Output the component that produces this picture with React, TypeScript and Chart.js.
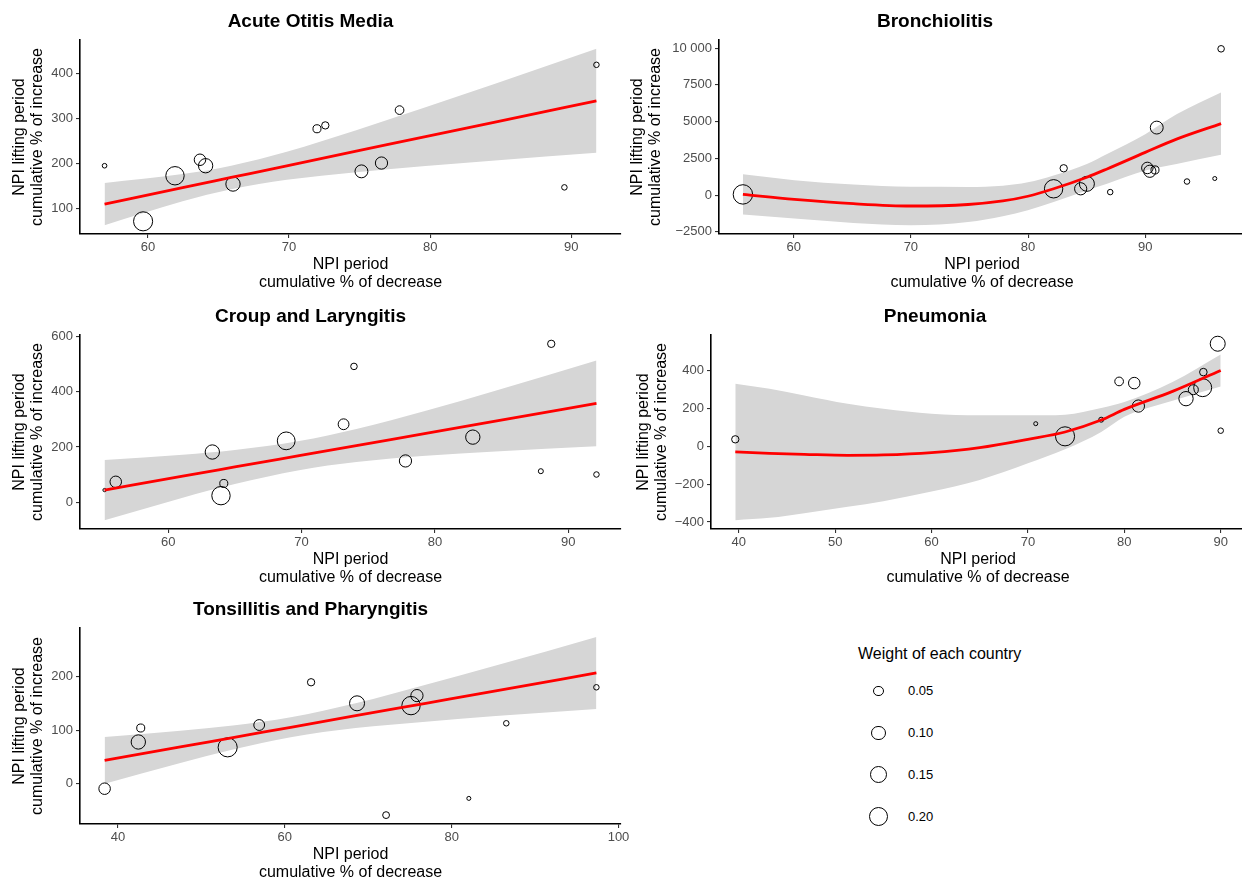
import React, { useEffect, useRef } from "react";
import { Chart, registerables } from "chart.js";
Chart.register(...registerables);

const FONT = '"Liberation Sans", Arial, Helvetica, sans-serif';
Chart.defaults.font.family = FONT;

// ---------- Acute Otitis Media ----------
const aomX = [56.93, 59.66, 61.92, 63.69, 64.09, 66.03, 71.98, 72.57, 75.13, 76.55, 77.83, 89.51, 91.78];
const aomY = [195.6, 72, 173.3, 208.9, 195.6, 154.9, 277.8, 285.3, 183.1, 201.6, 319.3, 147.5, 420];
const aomW = [0.012, 0.203, 0.188, 0.0736, 0.114, 0.114, 0.036, 0.03, 0.0925, 0.083, 0.042, 0.017, 0.017];
const aomFitX = [56.93, 62.46, 65.9, 69.84, 74.76, 79.67, 84.6, 91.78];
const aomFit = [110.4, 146.8, 169.5, 195.5, 227.9, 260.2, 292.7, 340];
const aomLo = [63.4, 116.6, 143.3, 164.2, 181.3, 194.8, 207.3, 224.4];
const aomHi = [157.4, 177, 195.7, 226.8, 274.5, 325.6, 378.1, 455.6];
const aomXTicks = [60, 70, 80, 90];
const aomYTicks = [100, 200, 300, 400];
const aomYLabels = ["100", "200", "300", "400"];

// ---------- Bronchiolitis ----------
const bronX = [55.67, 82.18, 83.04, 84.49, 85.02, 87.01, 90.18, 90.39, 90.83, 90.98, 93.56, 95.93, 96.47];
const bronY = [45, 428, 1824, 428, 766, 203, 1847, 1621, 1711, 4594, 923, 1126, 9954];
const bronW = [0.21, 0.188, 0.03, 0.083, 0.125, 0.017, 0.0736, 0.083, 0.036, 0.0925, 0.017, 0.009, 0.024];
const bronFitX = [55.67, 60.06, 65.1, 69.99, 74.88, 77.85, 79.98, 82.18, 85.02, 86.74, 90.0, 92.67, 96.47];
const bronFit = [45, -293, -586, -743, -640, -400, -80, 428, 1216, 1779, 2905, 3806, 4864];
const bronLo = [-1329, -1599, -1892, -2049, -1834, -1436, -1026, -473, 315, 766, 1666, 2117, 2747];
const bronHi = [1419, 1013, 720, 563, 554, 636, 866, 1329, 2117, 2792, 4144, 5495, 6981];
const bronXTicks = [60, 70, 80, 90];
const bronYTicks = [-2500, 0, 2500, 5000, 7500, 10000];
const bronYLabels = ["\u22122500", "0", "2500", "5000", "7500", "10 000"];

// ---------- Croup and Laryngitis ----------
const croupX = [55.23, 56.07, 63.31, 64.17, 63.96, 68.85, 73.15, 73.93, 77.79, 82.84, 87.94, 88.72, 92.11];
const croupY = [44.2, 74, 181.7, 68, 24, 222, 282, 491, 149.4, 235.5, 112.4, 572.6, 100.4];
const croupW = [0.006, 0.0736, 0.114, 0.036, 0.188, 0.176, 0.065, 0.024, 0.083, 0.114, 0.014, 0.03, 0.017];
const croupFitX = [55.23, 61.09, 65.0, 69.82, 74.11, 79.32, 84.53, 92.11];
const croupFit = [44.2, 94.4, 127.6, 168.5, 204.9, 249.2, 293.4, 357.5];
const croupLo = [-64.6, 16.8, 66.3, 115.9, 145.2, 167.9, 183.9, 202.7];
const croupHi = [153.0, 172.0, 188.9, 221.1, 264.6, 330.5, 402.9, 512.3];
const croupXTicks = [60, 70, 80, 90];
const croupYTicks = [0, 200, 400, 600];
const croupYLabels = ["0", "200", "400", "600"];

// ---------- Pneumonia ----------
const pneuX = [39.64, 70.81, 73.85, 77.6, 79.46, 81.03, 81.46, 86.4, 87.16, 88.13, 88.2, 89.69, 90.0];
const pneuY = [36.9, 119.5, 52.7, 140.6, 342.8, 334, 212.7, 251.7, 299, 309.8, 392, 542, 82.6];
const pneuW = [0.03, 0.009, 0.203, 0.014, 0.042, 0.0736, 0.083, 0.114, 0.056, 0.18, 0.032, 0.125, 0.017];
const pneuFitX = [39.64, 43.2, 46.8, 51.3, 55.0, 60, 65.0, 70, 73.85, 77.6, 80, 85, 90];
const pneuFit = [-29.9, -36.9, -42.2, -47.5, -45.7, -33.4, -7, 36.9, 75.6, 138.9, 195, 290, 400.8];
const pneuLo = [-390.3, -378, -353.4, -320, -290, -239, -177.6, -89.7, -15.8, 75.6, 156.5, 240.8, 316.4];
const pneuHi = [330.5, 304.1, 269, 225, 198.7, 172.3, 163.5, 163.5, 167, 202.2, 233.8, 339.3, 485.2];
const pneuXTicks = [40, 50, 60, 70, 80, 90];
const pneuYTicks = [-400, -200, 0, 200, 400];
const pneuYLabels = ["\u2212400", "\u2212200", "0", "200", "400"];

// ---------- Tonsillitis and Pharyngitis ----------
const tonsX = [38.4, 42.44, 42.73, 53.15, 56.93, 63.15, 68.66, 75.13, 75.84, 72.14, 82.06, 86.55, 97.35];
const tonsY = [-9.3, 77.9, 104, 67.9, 109.6, 189.4, 150.1, 145.8, 164.5, -58.6, -27.4, 112.8, 180];
const tonsW = [0.0736, 0.114, 0.036, 0.203, 0.065, 0.03, 0.125, 0.188, 0.083, 0.026, 0.009, 0.017, 0.017];
const tonsFitX = [38.4, 47.48, 53.78, 60.71, 68.49, 76.89, 85.29, 97.35];
const tonsFit = [43.6, 68.7, 86.2, 105.4, 127.0, 150.2, 173.4, 206.8];
const tonsLo = [0, 38.7, 63.8, 86.7, 103.8, 115.6, 126.2, 139.5];
const tonsHi = [87.2, 98.7, 108.6, 124.1, 150.2, 184.8, 220.6, 274.1];
const tonsXTicks = [40, 60, 80, 100];
const tonsYTicks = [0, 100, 200];
const tonsYLabels = ["0", "100", "200"];

// ---------- Legend ----------
const legendWeights = [0.05, 0.1, 0.15, 0.2];
const legendLabels = ["0.05", "0.10", "0.15", "0.20"];

const radiusOf = (w: number) => 21.2 * Math.sqrt(w);

type PanelDef = {
  title: string;
  x: number[]; y: number[]; w: number[];
  fitX: number[]; fit: number[]; lo: number[]; hi: number[];
  xTicks: number[]; yTicks: number[]; yLabels: string[];
  xMin: number; xMax: number; yMin: number; yMax: number;
  left: number; top: number; width: number; height: number;
  yW: number; padR: number; yTitlePad: number;
};

const panels: PanelDef[] = [
  {
    title: "Acute Otitis Media", x: aomX, y: aomY, w: aomW, fitX: aomFitX, fit: aomFit, lo: aomLo, hi: aomHi,
    xTicks: aomXTicks, yTicks: aomYTicks, yLabels: aomYLabels,
    xMin: 55.19, xMax: 93.52, yMin: 43.8, yMax: 475.2,
    left: 0, top: 0, width: 640, height: 294, yW: 80, padR: 19, yTitlePad: 11,
  },
  {
    title: "Bronchiolitis", x: bronX, y: bronY, w: bronW, fitX: bronFitX, fit: bronFit, lo: bronLo, hi: bronHi,
    xTicks: bronXTicks, yTicks: bronYTicks, yLabels: bronYLabels,
    xMin: 53.63, xMax: 98.51, yMin: -2649, yMax: 10554,
    left: 625, top: 0, width: 625, height: 294, yW: 94, padR: 5, yTitlePad: 4,
  },
  {
    title: "Croup and Laryngitis", x: croupX, y: croupY, w: croupW, fitX: croupFitX, fit: croupFit, lo: croupLo, hi: croupHi,
    xTicks: croupXTicks, yTicks: croupYTicks, yLabels: croupYLabels,
    xMin: 53.39, xMax: 93.95, yMin: -96.5, yMax: 604.5,
    left: 0, top: 295, width: 640, height: 294, yW: 80, padR: 19, yTitlePad: 11,
  },
  {
    title: "Pneumonia", x: pneuX, y: pneuY, w: pneuW, fitX: pneuFitX, fit: pneuFit, lo: pneuLo, hi: pneuHi,
    xTicks: pneuXTicks, yTicks: pneuYTicks, yLabels: pneuYLabels,
    xMin: 37.12, xMax: 92.52, yMin: -436.9, yMax: 588.1,
    left: 625, top: 295, width: 625, height: 294, yW: 86, padR: 5, yTitlePad: 10,
  },
  {
    title: "Tonsillitis and Pharyngitis", x: tonsX, y: tonsY, w: tonsW, fitX: tonsFitX, fit: tonsFit, lo: tonsLo, hi: tonsHi,
    xTicks: tonsXTicks, yTicks: tonsYTicks, yLabels: tonsYLabels,
    xMin: 35.45, xMax: 100.3, yMin: -75.2, yMax: 290.7,
    left: 0, top: 588, width: 640, height: 296, yW: 80, padR: 19, yTitlePad: 11,
  },
];

const tickFont = { family: FONT, size: 13 };
const axisTitleFont = { family: FONT, size: 16, lineHeight: 1.1 };

function PanelChart({ p }: { p: PanelDef }) {
  const ref = useRef<HTMLCanvasElement>(null);
  useEffect(() => {
    const canvas = ref.current!;
    const pts = (xs: number[], ys: number[]) => xs.map((x, i) => ({ x, y: ys[i] }));
    const chart = new Chart(canvas, {
      type: "scatter",
      data: {
        datasets: [
          {
            type: "line",
            data: pts(p.fitX, p.fit),
            borderColor: "#FF0000",
            borderWidth: 2.8,
            pointRadius: 0,
            fill: false,
            cubicInterpolationMode: "monotone",
            order: 0,
          } as any,
          {
            type: "scatter",
            data: pts(p.x, p.y),
            pointRadius: p.w.map(radiusOf),
            pointBorderColor: "#000000",
            pointBackgroundColor: "rgba(0,0,0,0)",
            pointBorderWidth: 1,
            order: 1,
          } as any,
          {
            type: "line",
            data: pts(p.fitX, p.lo),
            borderColor: "rgba(0,0,0,0)",
            borderWidth: 0,
            pointRadius: 0,
            fill: false,
            cubicInterpolationMode: "monotone",
            order: 3,
          } as any,
          {
            type: "line",
            data: pts(p.fitX, p.hi),
            borderColor: "rgba(0,0,0,0)",
            borderWidth: 0,
            pointRadius: 0,
            fill: 2,
            backgroundColor: "rgb(214,214,214)",
            cubicInterpolationMode: "monotone",
            order: 2,
          } as any,
        ],
      },
      options: {
        animation: false,
        responsive: false,
        maintainAspectRatio: false,
        events: [],
        layout: { padding: { left: 0, right: p.padR, top: 0, bottom: 0 }, autoPadding: false } as any,
        plugins: {
          legend: { display: false },
          tooltip: { enabled: false },
          filler: { drawTime: "beforeDatasetsDraw" } as any,
          title: {
            display: true,
            text: p.title,
            color: "#000",
            font: { family: FONT, size: 19, weight: "bold" as any, lineHeight: 1.2 },
            padding: { top: 10, bottom: 7.2 },
          },
        },
        scales: {
          x: {
            type: "linear",
            min: p.xMin,
            max: p.xMax,
            afterBuildTicks: (s: any) => {
              s.ticks = p.xTicks.map((v) => ({ value: v }));
            },
            afterFit: (s: any) => {
              s.height = 60;
            },
            ticks: {
              font: tickFont,
              color: "#4D4D4D",
              padding: 2,
              maxRotation: 0,
              autoSkip: false,
              callback: (v: any) => String(v),
            },
            grid: { display: true, drawOnChartArea: false, drawTicks: true, tickLength: 4, color: "#333333", lineWidth: 1.1 },
            border: { display: true, color: "#000", width: 1.6 },
            title: {
              display: true,
              text: ["NPI period", "cumulative % of decrease"],
              color: "#000",
              font: axisTitleFont,
              padding: { top: 0, bottom: 2.7 },
            },
          },
          y: {
            type: "linear",
            min: p.yMin,
            max: p.yMax,
            afterBuildTicks: (s: any) => {
              s.ticks = p.yTicks.map((v) => ({ value: v }));
            },
            afterFit: (s: any) => {
              s.width = p.yW;
            },
            ticks: {
              font: tickFont,
              color: "#4D4D4D",
              padding: 3,
              autoSkip: false,
              callback: (v: any) => {
                const i = p.yTicks.indexOf(Number(v));
                return i >= 0 ? p.yLabels[i] : String(v);
              },
            },
            grid: { display: true, drawOnChartArea: false, drawTicks: true, tickLength: 4, color: "#333333", lineWidth: 1.1 },
            border: { display: true, color: "#000", width: 1.6 },
            title: {
              display: true,
              text: ["NPI lifting period", "cumulative % of increase"],
              color: "#000",
              font: axisTitleFont,
              padding: { top: p.yTitlePad, bottom: 0 },
            },
          },
        },
      } as any,
    });
    return () => chart.destroy();
  }, [p]);
  return (
    <canvas
      ref={ref}
      width={p.width}
      height={p.height}
      style={{ position: "absolute", left: p.left, top: p.top, width: p.width, height: p.height }}
    />
  );
}

function Legend() {
  const cx = 878.5;
  const ys = [691, 733, 774.5, 816.5];
  return (
    <>
      <div
        style={{
          position: "absolute", left: 858, top: 644, font: `16px ${FONT}`, lineHeight: "20px",
          color: "#000", whiteSpace: "nowrap",
        }}
      >
        Weight of each country
      </div>
      {legendWeights.map((w, i) => {
        const r = radiusOf(w);
        const d = 2 * r + 1;
        return (
          <React.Fragment key={i}>
            <div
              style={{
                position: "absolute", left: cx - d / 2, top: ys[i] - d / 2, width: d, height: d,
                boxSizing: "border-box", border: "1px solid #000", borderRadius: "50%",
              }}
            />
            <div
              style={{
                position: "absolute", left: 908, top: ys[i] - 8, font: `13px ${FONT}`, lineHeight: "16px",
                color: "#000",
              }}
            >
              {legendLabels[i]}
            </div>
          </React.Fragment>
        );
      })}
    </>
  );
}

export default function App() {
  return (
    <div
      style={{
        position: "absolute", left: 0, top: 0, width: 1242, height: 880, overflow: "hidden",
        background: "#ffffff",
      }}
    >
      {panels.map((p, i) => (
        <PanelChart key={i} p={p} />
      ))}
      <Legend />
    </div>
  );
}
